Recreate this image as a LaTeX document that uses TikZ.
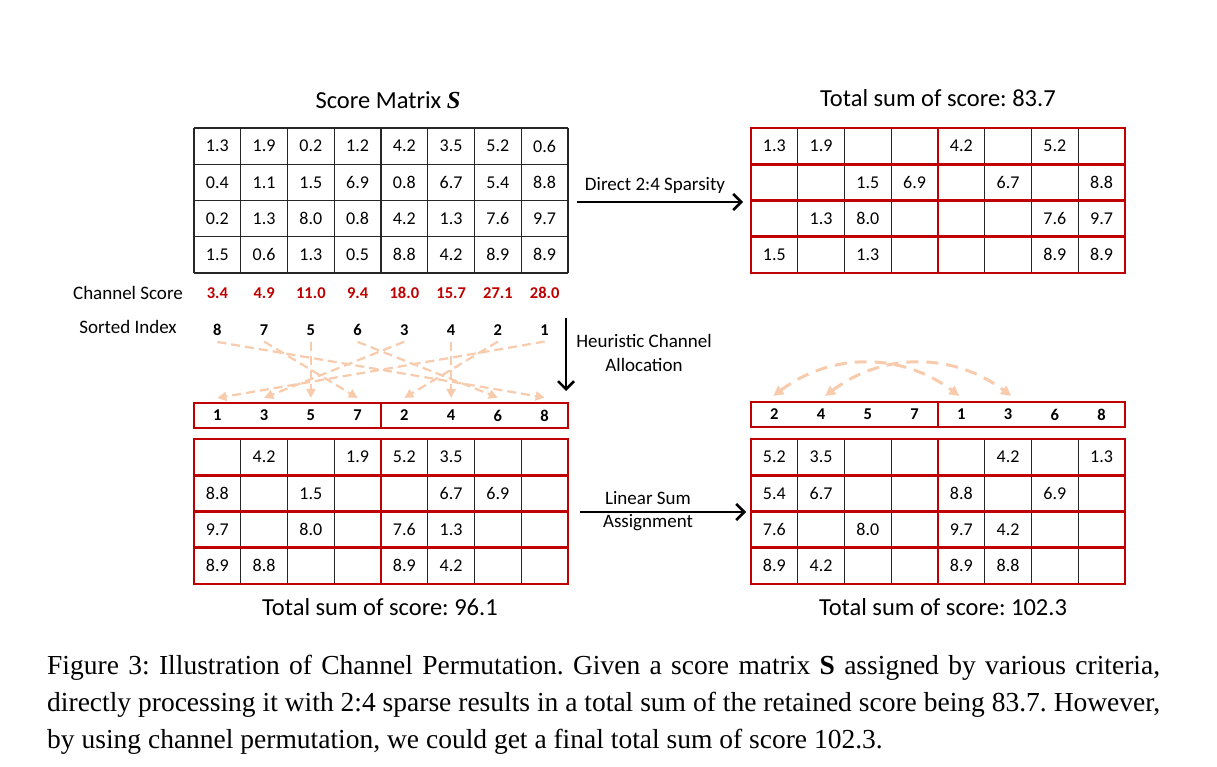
\documentclass[tikz,border=0pt]{standalone}
\usepackage{fontspec}
\setmainfont{Carlito}
\newfontfamily\capfont{Liberation Serif}
\usetikzlibrary{arrows.meta,calc}
\definecolor{dred}{HTML}{C00000}
\definecolor{peach}{HTML}{F8CBAD}
\def\mycw{46.75}
\def\myrh{36.25}
\newcommand\cellgrid[2]{%
  \foreach \i in {0,...,8} \draw[gline] ({#1+\i*\mycw},#2) -- ({#1+\i*\mycw},{#2+4*\myrh});
  \foreach \j in {0,...,4} \draw[gline] (#1,{#2+\j*\myrh}) -- ({#1+8*\mycw},{#2+\j*\myrh});
}
\newcommand\cellvals[4]{%
  \foreach \row [count=\r] in {#4} {%
    \foreach \v [count=\c] in \row {%
      \node[cell] (#3-\r-\c) at ({#1+(\c-0.5)*\mycw},{#2+(\r-0.5)*\myrh}) {\v};
    }
  }
}
\newcommand\redrows[2]{%
  \foreach \j in {0,...,3} {%
    \draw[rbox] (#1,{#2+\j*\myrh}) rectangle ++({4*\mycw},\myrh);
    \draw[rbox] ({#1+4*\mycw},{#2+\j*\myrh}) rectangle ++({4*\mycw},\myrh);
  }
}
\begin{document}
\frenchspacing
\begin{tikzpicture}[x=1pt,y=-1pt,
  cell/.style={font=\fontsize{18}{20}\selectfont, inner sep=0pt},
  lbl/.style={font=\fontsize{19}{23.5}\selectfont, inner sep=0pt, align=center},
  ttl/.style={font=\fontsize{24.5}{28}\selectfont, inner sep=0pt},
  csv/.style={font=\fontsize{16.5}{20}\selectfont\bfseries, text=dred, inner sep=0pt},
  idx/.style={font=\fontsize{16.5}{20}\selectfont\bfseries, inner sep=0pt},
  gline/.style={line width=1.1pt, draw=black!85},
  rbox/.style={line width=2.8pt, draw=dred},
  pdash/.style={draw=peach, line width=2.2pt, dash pattern=on 9pt off 5pt, -{Triangle[length=9pt,width=9pt]}},
  parc/.style={draw=peach, line width=3pt, dash pattern=on 12pt off 8pt, {Triangle[length=10pt,width=10pt]}-{Triangle[length=10pt,width=10pt]}},
  barrow/.style={line width=2.6pt, -{Straight Barb[length=8pt,width=16pt]}},
  captext/.style={font=\capfont\fontsize{27.5}{32}\selectfont, inner sep=0pt, anchor=base west},
]
\fill[white] (0,0) rectangle (1217,766);
\useasboundingbox (0,0) rectangle (1217,766);

% titles
\node[ttl] (t1) at (388,100) {Score Matrix {\capfont\bfseries\itshape S}};
\node[ttl] (t2) at (938,98) {Total sum of score: 83.7};
\node[ttl] (t3) at (380,607) {Total sum of score: 96.1};
\node[ttl] (t4) at (943,607) {Total sum of score: 102.3};

% top-left matrix
\cellgrid{194}{128}
\cellvals{194}{128}{A}{{1.3,1.9,0.2,1.2,4.2,3.5,5.2,0.6},{0.4,1.1,1.5,6.9,0.8,6.7,5.4,8.8},{0.2,1.3,8.0,0.8,4.2,1.3,7.6,9.7},{1.5,0.6,1.3,0.5,8.8,4.2,8.9,8.9}}

% top-right matrix
\cellgrid{751}{128}
\redrows{751}{128}
\cellvals{751}{128}{B}{{1.3,1.9,{},{},4.2,{},5.2,{}},{{},{},1.5,6.9,{},6.7,{},8.8},{{},1.3,8.0,{},{},{},7.6,9.7},{1.5,{},1.3,{},{},{},8.9,8.9}}

% bottom-left matrix
\cellgrid{194}{439}
\redrows{194}{439}
\cellvals{194}{439}{C}{{{},4.2,{},1.9,5.2,3.5,{},{}},{8.8,{},1.5,{},{},6.7,6.9,{}},{9.7,{},8.0,{},7.6,1.3,{},{}},{8.9,8.8,{},{},8.9,4.2,{},{}}}

% bottom-right matrix
\cellgrid{751}{439}
\redrows{751}{439}
\cellvals{751}{439}{D}{{5.2,3.5,{},{},{},4.2,{},1.3},{5.4,6.7,{},{},8.8,{},6.9,{}},{7.6,{},8.0,{},9.7,4.2,{},{}},{8.9,4.2,{},{},8.9,8.8,{},{}}}

% labels
\node[lbl] (lcs) at (128,293) {Channel Score};
\node[lbl] (lsi) at (128,327) {Sorted Index};
\foreach \v [count=\i] in {3.4,4.9,11.0,9.4,18.0,15.7,27.1,28.0}
  \node[csv] (cs-\i) at ({194+(\i-0.5)*\mycw},293) {\v};
\foreach \v [count=\i] in {8,7,5,6,3,4,2,1}
  \node[idx] (si-\i) at ({194+(\i-0.5)*\mycw},330) {\v};

% index strips
\draw[rbox] (194,403) rectangle (568,428);
\draw[rbox] (381,403) -- (381,428);
\foreach \v [count=\i] in {1,3,5,7,2,4,6,8}
  \node[idx] (stL-\i) at ({194+(\i-0.5)*\mycw},415.5) {\v};
\draw[rbox] (751,402) rectangle (1125,427);
\draw[rbox] (938,402) -- (938,427);
\foreach \v [count=\i] in {2,4,5,7,1,3,6,8}
  \node[idx] (stR-\i) at ({751+(\i-0.5)*\mycw},414.5) {\v};

% dashed allocation arrows
\foreach \i/\t in {1/8,2/4,3/3,4/7,5/2,6/6,7/5,8/1}
  \draw[pdash] ($(si-\i.south)+(0,6)$) -- ($(stL-\t.north)+(0,-12)$);

% swap arcs
\draw[parc] ($(stR-1.north)+(-1,-13)$) to[bend left=37] ($(stR-5.north)+(-2,-13)$);
\draw[parc] ($(stR-2.north)+(4,-13)$) to[bend left=37] ($(stR-6.north)+(3,-13)$);

% black arrows
\coordinate (a1s) at (577,202); \coordinate (a1e) at (743,202);
\coordinate (a2s) at (566,318); \coordinate (a2e) at (566,391);
\coordinate (a3s) at (580,512); \coordinate (a3e) at (746,512);
\draw[barrow] (a1s) -- (a1e);
\draw[barrow] (a2s) -- (a2e);
\draw[barrow] (a3s) -- (a3e);
\node[lbl] (l1) at (655,185) {Direct 2:4 Sparsity};
\node[lbl] (l2) at (644,353) {Heuristic Channel\\Allocation};
\node[lbl] (l3) at (648,511) {Linear Sum\\Assignment};

% caption
\node[captext] (c1) at (47,674) {\makebox[1113pt][s]{Figure 3: Illustration of Channel Permutation. Given a score matrix \textbf{S} assigned by various criteria,}};
\node[captext] (c2) at (47,711) {\makebox[1113pt][s]{directly processing it with 2:4 sparse results in a total sum of the retained score being 83.7. However,}};
\node[captext] (c3) at (47,748) {by using channel permutation, we could get a final total sum of score 102.3.};
\end{tikzpicture}
\end{document}
